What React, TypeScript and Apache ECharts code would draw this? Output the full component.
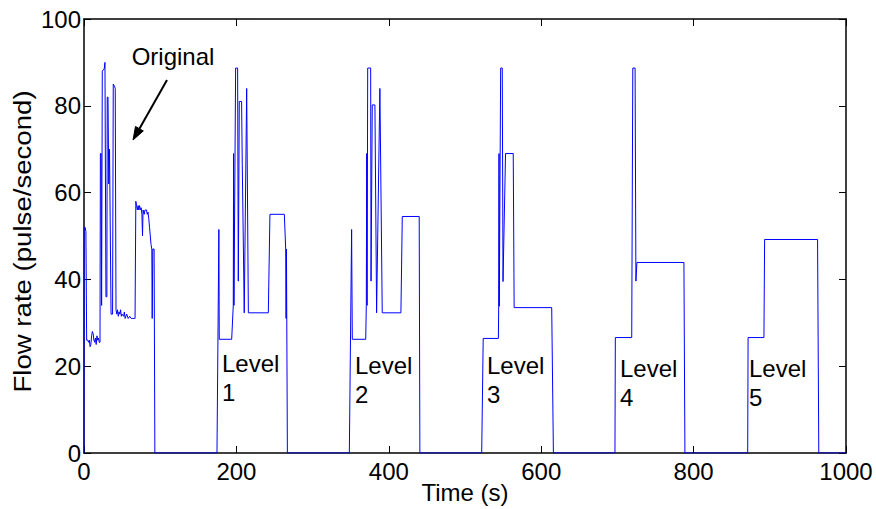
import React, { useEffect, useRef } from "react";
import * as echarts from "echarts";

// ---- data (time in s, flow rate in pulse/second) ----
const originalTime = [0, 0.3, 1.5, 2.5, 3.5, 5, 6, 7, 8, 9, 10, 11, 12, 13, 14, 15, 16, 17, 18, 19, 20, 21, 21.5, 22.5, 23.1, 24, 26.5, 27.5, 28.3, 28.8, 30, 30.5, 31.5, 32.5, 33.5, 34, 35.5, 37.5, 38.4, 40, 41, 42, 43, 44, 45, 46, 47, 48, 49, 50, 52, 53, 54, 56, 58, 60, 62, 64, 66, 67, 68, 69, 70, 71, 72, 73, 74, 75, 76, 76.8, 77.5, 79, 80, 81, 82, 83, 84, 85, 86, 87, 88, 89, 89.5, 90.3, 92, 93];
const originalFlow = [0, 52, 52, 51, 26, 26, 25.5, 26, 24.5, 25, 27, 28, 27.5, 26, 25.5, 26.5, 25, 27, 26, 26.5, 25.5, 25.5, 69, 69, 34, 88, 88.5, 90, 90, 36, 36, 82, 82, 62, 70, 70, 32, 32, 85, 84.5, 84, 33, 32, 33, 31.5, 32.5, 32, 33, 31.5, 32, 31.5, 32.5, 31, 32, 31, 31.5, 31, 31, 31, 31, 58, 57, 56, 57, 56, 57, 56, 56.5, 55, 50, 56, 55, 56, 56, 56, 55, 55.5, 54, 52, 50, 48, 47, 31, 47, 47, 0];

const level1Time = [174.5, 177, 177.5, 193.8, 195.9, 196.3, 196.8, 199, 201.6, 202.5, 203.8, 206.8, 207.7, 210.3, 213.5, 214, 215.7, 241.9, 244, 262.9, 264.7, 265.2, 265.7, 266.9];
const level1Flow = [0, 51.5, 26.2, 26.2, 34, 69, 34, 88.7, 88.7, 39.6, 81, 81, 66.4, 32.3, 84, 84, 32.3, 32.3, 55, 55, 47, 31, 47, 0];

const level2Time = [348.2, 351.2, 352.1, 369.7, 370.5, 371, 371.5, 372.3, 376.2, 376.7, 378.3, 381.8, 384, 384.8, 388.3, 389, 391.4, 415.9, 417.7, 439.9, 440.8];
const level2Flow = [0, 51.5, 26.2, 26.2, 34, 69, 34, 88.7, 88.7, 39.6, 80.2, 80.2, 32.3, 32.3, 84, 84, 32.3, 32.3, 54.5, 54.5, 0];

const level3Time = [521.9, 523.9, 543.8, 544.2, 544.6, 545, 546.8, 548.9, 549.9, 553.2, 563.3, 564.5, 613.8, 616];
const level3Flow = [0, 26.4, 26.4, 33.8, 69, 33.8, 88.7, 88.7, 39.5, 69, 69, 33.5, 33.5, 0];

const level4Time = [696.8, 697.3, 718.8, 720.2, 723.2, 724.3, 725.6, 787.3, 788.6];
const level4Flow = [0, 26.6, 26.6, 88.7, 88.7, 39.6, 43.9, 43.9, 0];

const level5Time = [871, 871.5, 892.3, 893.2, 962.7, 964.3, 1000];
const level5Flow = [0, 26.6, 26.6, 49.2, 49.2, 0, 0];

const xTicks = [0, 200, 400, 600, 800, 1000];
const yTicks = [0, 20, 40, 60, 80, 100];
const levelLabels = ["Level\n1", "Level\n2", "Level\n3", "Level\n4", "Level\n5"];
const originalLabel = "Original";
const xTitle = "Time (s)";
const yTitle = "Flow rate (pulse/second)";

const FONT = '"Liberation Sans", Arial, Helvetica, sans-serif';

export default function App() {
  const ref = useRef<HTMLDivElement>(null);
  useEffect(() => {
    if (!ref.current) return;
    const chart = echarts.init(ref.current, undefined, { renderer: "svg" });

    const segs: [number[], number[]][] = [
      [originalTime, originalFlow],
      [level1Time, level1Flow],
      [level2Time, level2Flow],
      [level3Time, level3Flow],
      [level4Time, level4Flow],
      [level5Time, level5Flow],
    ];
    const data: number[][] = [];
    segs.forEach(([t, v]) => t.forEach((ti, i) => data.push([ti, v[i]])));

    const xMin = xTicks[0];
    const xMax = xTicks[xTicks.length - 1];
    const xInt = xTicks[1] - xTicks[0];
    const yMin = yTicks[0];
    const yMax = yTicks[yTicks.length - 1];
    const yInt = yTicks[1] - yTicks[0];

    const axisLine = { show: true, onZero: false, lineStyle: { color: "#000", width: 1.5 } };
    const tick = { show: true, inside: true, length: 7, lineStyle: { color: "#000", width: 1 } };

    const levelPos = [
      [222, 349],
      [355, 351],
      [487, 351],
      [620, 354],
      [749, 354],
    ];

    // arrow
    const tip = [133, 140];
    const tail = [167, 80];
    const dx = tip[0] - tail[0];
    const dy = tip[1] - tail[1];
    const len = Math.sqrt(dx * dx + dy * dy);
    const ux = dx / len;
    const uy = dy / len;
    const headL = 13;
    const headW = 4.5;
    const base = [tip[0] - ux * headL, tip[1] - uy * headL];
    const px = -uy;
    const py = ux;

    chart.setOption({
      animation: false,
      grid: { left: 84, right: 30, top: 19, bottom: 56, containLabel: false },
      xAxis: [
        {
          type: "value",
          position: "bottom",
          min: xMin,
          max: xMax,
          interval: xInt,
          axisLine,
          axisTick: tick,
          splitLine: { show: false },
          axisLabel: {
            color: "#000",
            fontSize: 24,
            fontFamily: FONT,
            margin: 6,
            formatter: (v: number) => String(v),
          },
        },
        {
          type: "value",
          position: "top",
          min: xMin,
          max: xMax,
          interval: xInt,
          axisLine,
          axisTick: tick,
          splitLine: { show: false },
          axisLabel: { show: false },
        },
      ],
      yAxis: [
        {
          type: "value",
          position: "left",
          min: yMin,
          max: yMax,
          interval: yInt,
          axisLine,
          axisTick: tick,
          splitLine: { show: false },
          axisLabel: {
            color: "#000",
            fontSize: 24,
            fontFamily: FONT,
            margin: 3,
            formatter: (v: number) => String(v),
          },
        },
        {
          type: "value",
          position: "right",
          min: yMin,
          max: yMax,
          interval: yInt,
          axisLine,
          axisTick: tick,
          splitLine: { show: false },
          axisLabel: { show: false },
        },
      ],
      series: [
        {
          type: "line",
          xAxisIndex: 0,
          yAxisIndex: 0,
          data,
          showSymbol: false,
          symbol: "none",
          lineStyle: { color: "#0000ff", width: 1 },
          z: 5,
        },
      ],
      graphic: [
        {
          type: "text",
          x: 465,
          y: 492,
          style: { text: xTitle, fontSize: 24, fontFamily: FONT, fill: "#000", align: "center", verticalAlign: "middle" },
        },
        {
          type: "text",
          x: 23,
          y: 241.5,
          rotation: Math.PI / 2,
          scaleX: 1.15,
          style: { text: yTitle, fontSize: 24, fontFamily: FONT, fill: "#000", align: "center", verticalAlign: "middle" },
        },
        {
          type: "text",
          x: 173,
          y: 56,
          style: { text: originalLabel, fontSize: 24, fontFamily: FONT, fill: "#000", align: "center", verticalAlign: "middle" },
        },
        {
          type: "line",
          shape: { x1: tail[0], y1: tail[1], x2: base[0], y2: base[1] },
          style: { stroke: "#000", lineWidth: 2 },
        },
        {
          type: "polygon",
          shape: {
            points: [
              [tip[0], tip[1]],
              [base[0] + px * headW, base[1] + py * headW],
              [base[0] - px * headW, base[1] - py * headW],
            ],
          },
          style: { fill: "#000", stroke: "#000", lineWidth: 1 },
        },
        ...levelLabels.map((t, i) => ({
          type: "text",
          x: levelPos[i][0],
          y: levelPos[i][1],
          z: 10,
          style: { text: t, fontSize: 24, fontFamily: FONT, fill: "#000", align: "left", verticalAlign: "top", lineHeight: 29 },
        })),
      ],
    });
    return () => chart.dispose();
  }, []);

  return (
    <div
      ref={ref}
      style={{ position: "absolute", left: 0, top: 0, width: 876, height: 509, background: "#fff" }}
    />
  );
}
